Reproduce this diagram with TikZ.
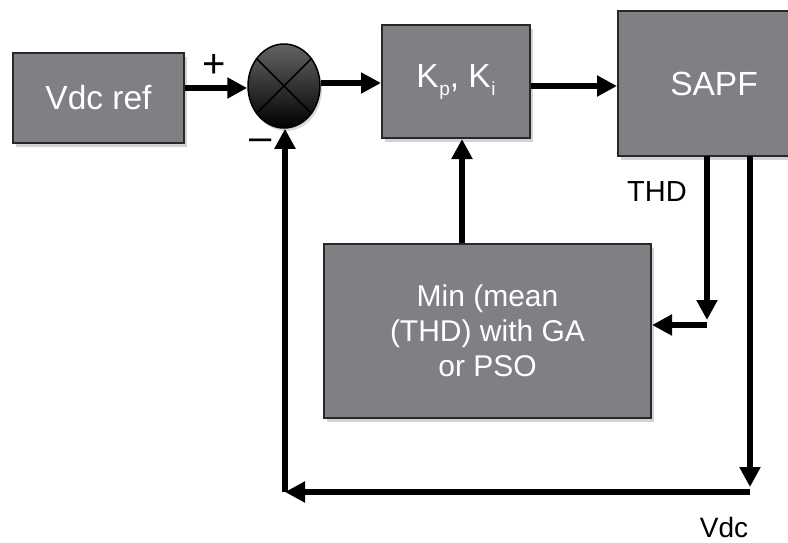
\documentclass[tikz,border=0pt]{standalone}
\usepackage{fontspec}
\setmainfont{Liberation Sans}
\usetikzlibrary{shapes.geometric,arrows.meta,shadows}
\definecolor{boxgray}{RGB}{128,128,132}
\definecolor{boxedge}{RGB}{40,40,40}
\definecolor{sumtop}{RGB}{100,100,100}
\tikzset{
  blockbox/.style={rectangle, draw=boxedge, line width=2pt, fill=boxgray, text=white,
    inner sep=0pt, align=center,
    drop shadow={opacity=0.35, shadow xshift=3pt, shadow yshift=-4pt}},
  conn/.style={line width=6pt, draw=black, -{Triangle[length=20pt,width=20pt]}},
  lbl/.style={text=black, inner sep=0pt}
}
\newcommand{\subsc}[1]{\kern0.5pt\raisebox{-0.45ex}{\fontsize{19}{20}\selectfont #1}}
\begin{document}
\begin{tikzpicture}[x=1pt,y=-1pt]
\useasboundingbox (0,0) rectangle (788,542);
\clip (0,0) rectangle (788,542);
% blocks
\node[blockbox, minimum width=171pt, minimum height=90pt, font=\fontsize{33.5}{36}\selectfont] (vref) at (98.5,98) {Vdc ref};
\node[blockbox, minimum width=148pt, minimum height=113pt, font=\fontsize{33.5}{36}\selectfont] (kp) at (456,81.5) {K\subsc{p}, K\subsc{i}};
\node[blockbox, minimum width=192pt, minimum height=145pt, font=\fontsize{33.5}{36}\selectfont] (sapf) at (714,83.5) {SAPF};
\node[blockbox, minimum width=327pt, minimum height=174pt, font=\fontsize{30}{35}\selectfont] (min) at (487.5,331) {Min (mean\\(THD) with GA\\or PSO};
% summing junction
\node[ellipse, minimum width=72pt, minimum height=84pt, inner sep=0pt, draw=black, line width=1.5pt,
  top color=sumtop, bottom color=black, drop shadow={opacity=0.3, shadow xshift=2pt, shadow yshift=-3pt}] (sum) at (284,86) {};
\draw[black, line width=1.5pt] (sum.135) -- (sum.-45);
\draw[black, line width=1.5pt] (sum.45) -- (sum.-135);
% coordinates for feedback paths
\coordinate (thdtop) at (707,156);
\coordinate (thdbend) at (707,325);
\coordinate (thdtip) at (707,320);
\coordinate (vdctop) at (750,156);
\coordinate (vdcbend) at (750,492);
\coordinate (vdctip) at (750,487);
\coordinate (leftbend) at (285,492);
% forward path
\draw[conn] (vref.east |- 0,88) -- (sum.west |- 0,88);
\draw[conn] (sum.east |- 0,83) -- (kp.west |- 0,83);
\draw[conn] (kp.east |- 0,86) -- (sapf.west |- 0,86);
\draw[conn] (min.north -| 462,0) -- (kp.south -| 462,0);
% THD path
\draw[conn] (thdtop) -- (thdtip);
\draw[conn] (thdbend) -- (min.east |- thdbend);
% Vdc path
\draw[conn] (vdctop) -- (vdctip);
\draw[conn] (vdcbend) -- (leftbend);
\draw[conn] (leftbend) -- (sum.south -| leftbend);
% labels
\node[lbl, font=\fontsize{40}{42}\selectfont] (plus) at (214,66) {+};
\node[lbl, font=\fontsize{40}{42}\selectfont] (minus) at (261,145) {\textendash};
\node[lbl, font=\fontsize{29}{31}\selectfont] (thdl) at (657,192) {THD};
\node[lbl, font=\fontsize{28}{30}\selectfont] (vdcl) at (724,527) {Vdc};
\end{tikzpicture}
\end{document}
